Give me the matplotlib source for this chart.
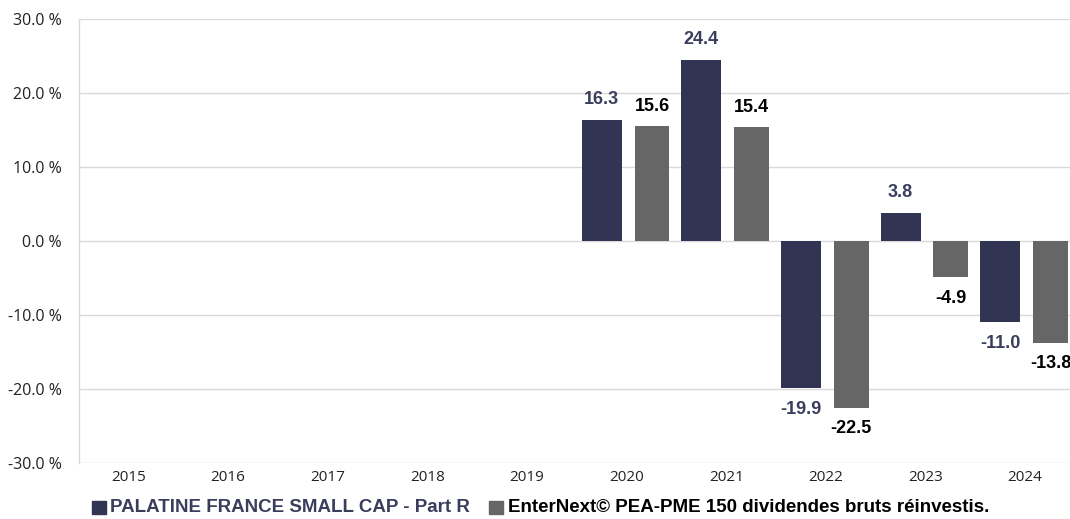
import matplotlib
matplotlib.use("Agg")
import matplotlib.pyplot as plt
import numpy as np
from matplotlib.patches import Rectangle

years = ["2015", "2016", "2017", "2018", "2019", "2020", "2021", "2022", "2023", "2024"]
fund = [None, None, None, None, None, 16.3, 24.4, -19.9, 3.8, -11.0]
index = [None, None, None, None, None, 15.6, 15.4, -22.5, -4.9, -13.8]
fund_name = "PALATINE FRANCE SMALL CAP - Part R"
index_name = "EnterNext© PEA-PME 150 dividendes bruts réinvestis."
yticks = [-30, -20, -10, 0, 10, 20, 30]

dark = "#313452"
gray = "#666666"
dark_lbl = "#3a3d5c"

W, H = 1070, 519
fig = plt.figure(figsize=(W / 100, H / 100), dpi=100)
ax = fig.add_axes([78.5 / W, (H - 463) / H, 996.5 / W, 444 / H])

x = np.arange(len(years))
for i in range(len(years)):
    if fund[i] is not None:
        ax.bar(x[i] - 0.25, fund[i], width=0.40, color=dark, zorder=3)
        v = fund[i]
        ax.annotate(f"{v:.1f}", (x[i] - 0.25, v), xytext=(0, 15 if v > 0 else -15),
                    textcoords="offset points", ha="center", va="center",
                    fontsize=13, fontweight="bold", color=dark_lbl, family="Liberation Sans")
    if index[i] is not None:
        ax.bar(x[i] + 0.255, index[i], width=0.35, color=gray, zorder=3)
        v = index[i]
        ax.annotate(f"{v:.1f}", (x[i] + 0.255, v), xytext=(0, 14 if v > 0 else -15),
                    textcoords="offset points", ha="center", va="center",
                    fontsize=13, fontweight="bold", color="black", family="Liberation Sans")

ax.set_xlim(-0.5, len(years) - 0.5)
ax.set_ylim(-30, 30)
ax.set_yticks(yticks)
ax.set_yticklabels([f"{t:.1f} %" for t in yticks], family="Open Sans", fontsize=11.5, color="#222222")
ax.set_xticks(x)
ax.set_xticklabels(years, family="Open Sans", fontsize=11, color="#222222")
ax.tick_params(axis="both", length=0)
ax.tick_params(axis="y", pad=12)
ax.tick_params(axis="x", pad=5)
ax.grid(axis="y", color="#d9d9d9", linewidth=1, zorder=0)
for s in ["top", "right", "bottom"]:
    ax.spines[s].set_visible(False)
ax.spines["left"].set_color("#d9d9d9")
ax.spines["left"].set_linewidth(1)

# legend
fig.patches.append(Rectangle((92 / W, (H - 514) / H), 14 / W, 13 / H, color=dark, transform=fig.transFigure))
fig.text(110 / W, (H - 507.5) / H, fund_name, ha="left", va="center", fontsize=13.5,
         fontweight="bold", color=dark_lbl, family="Liberation Sans")
fig.patches.append(Rectangle((489 / W, (H - 514) / H), 14 / W, 13 / H, color=gray, transform=fig.transFigure))
fig.text(508 / W, (H - 507.5) / H, index_name, ha="left", va="center", fontsize=13.5,
         fontweight="bold", color="black", family="Liberation Sans")

fig.savefig("out.png", dpi=100)
